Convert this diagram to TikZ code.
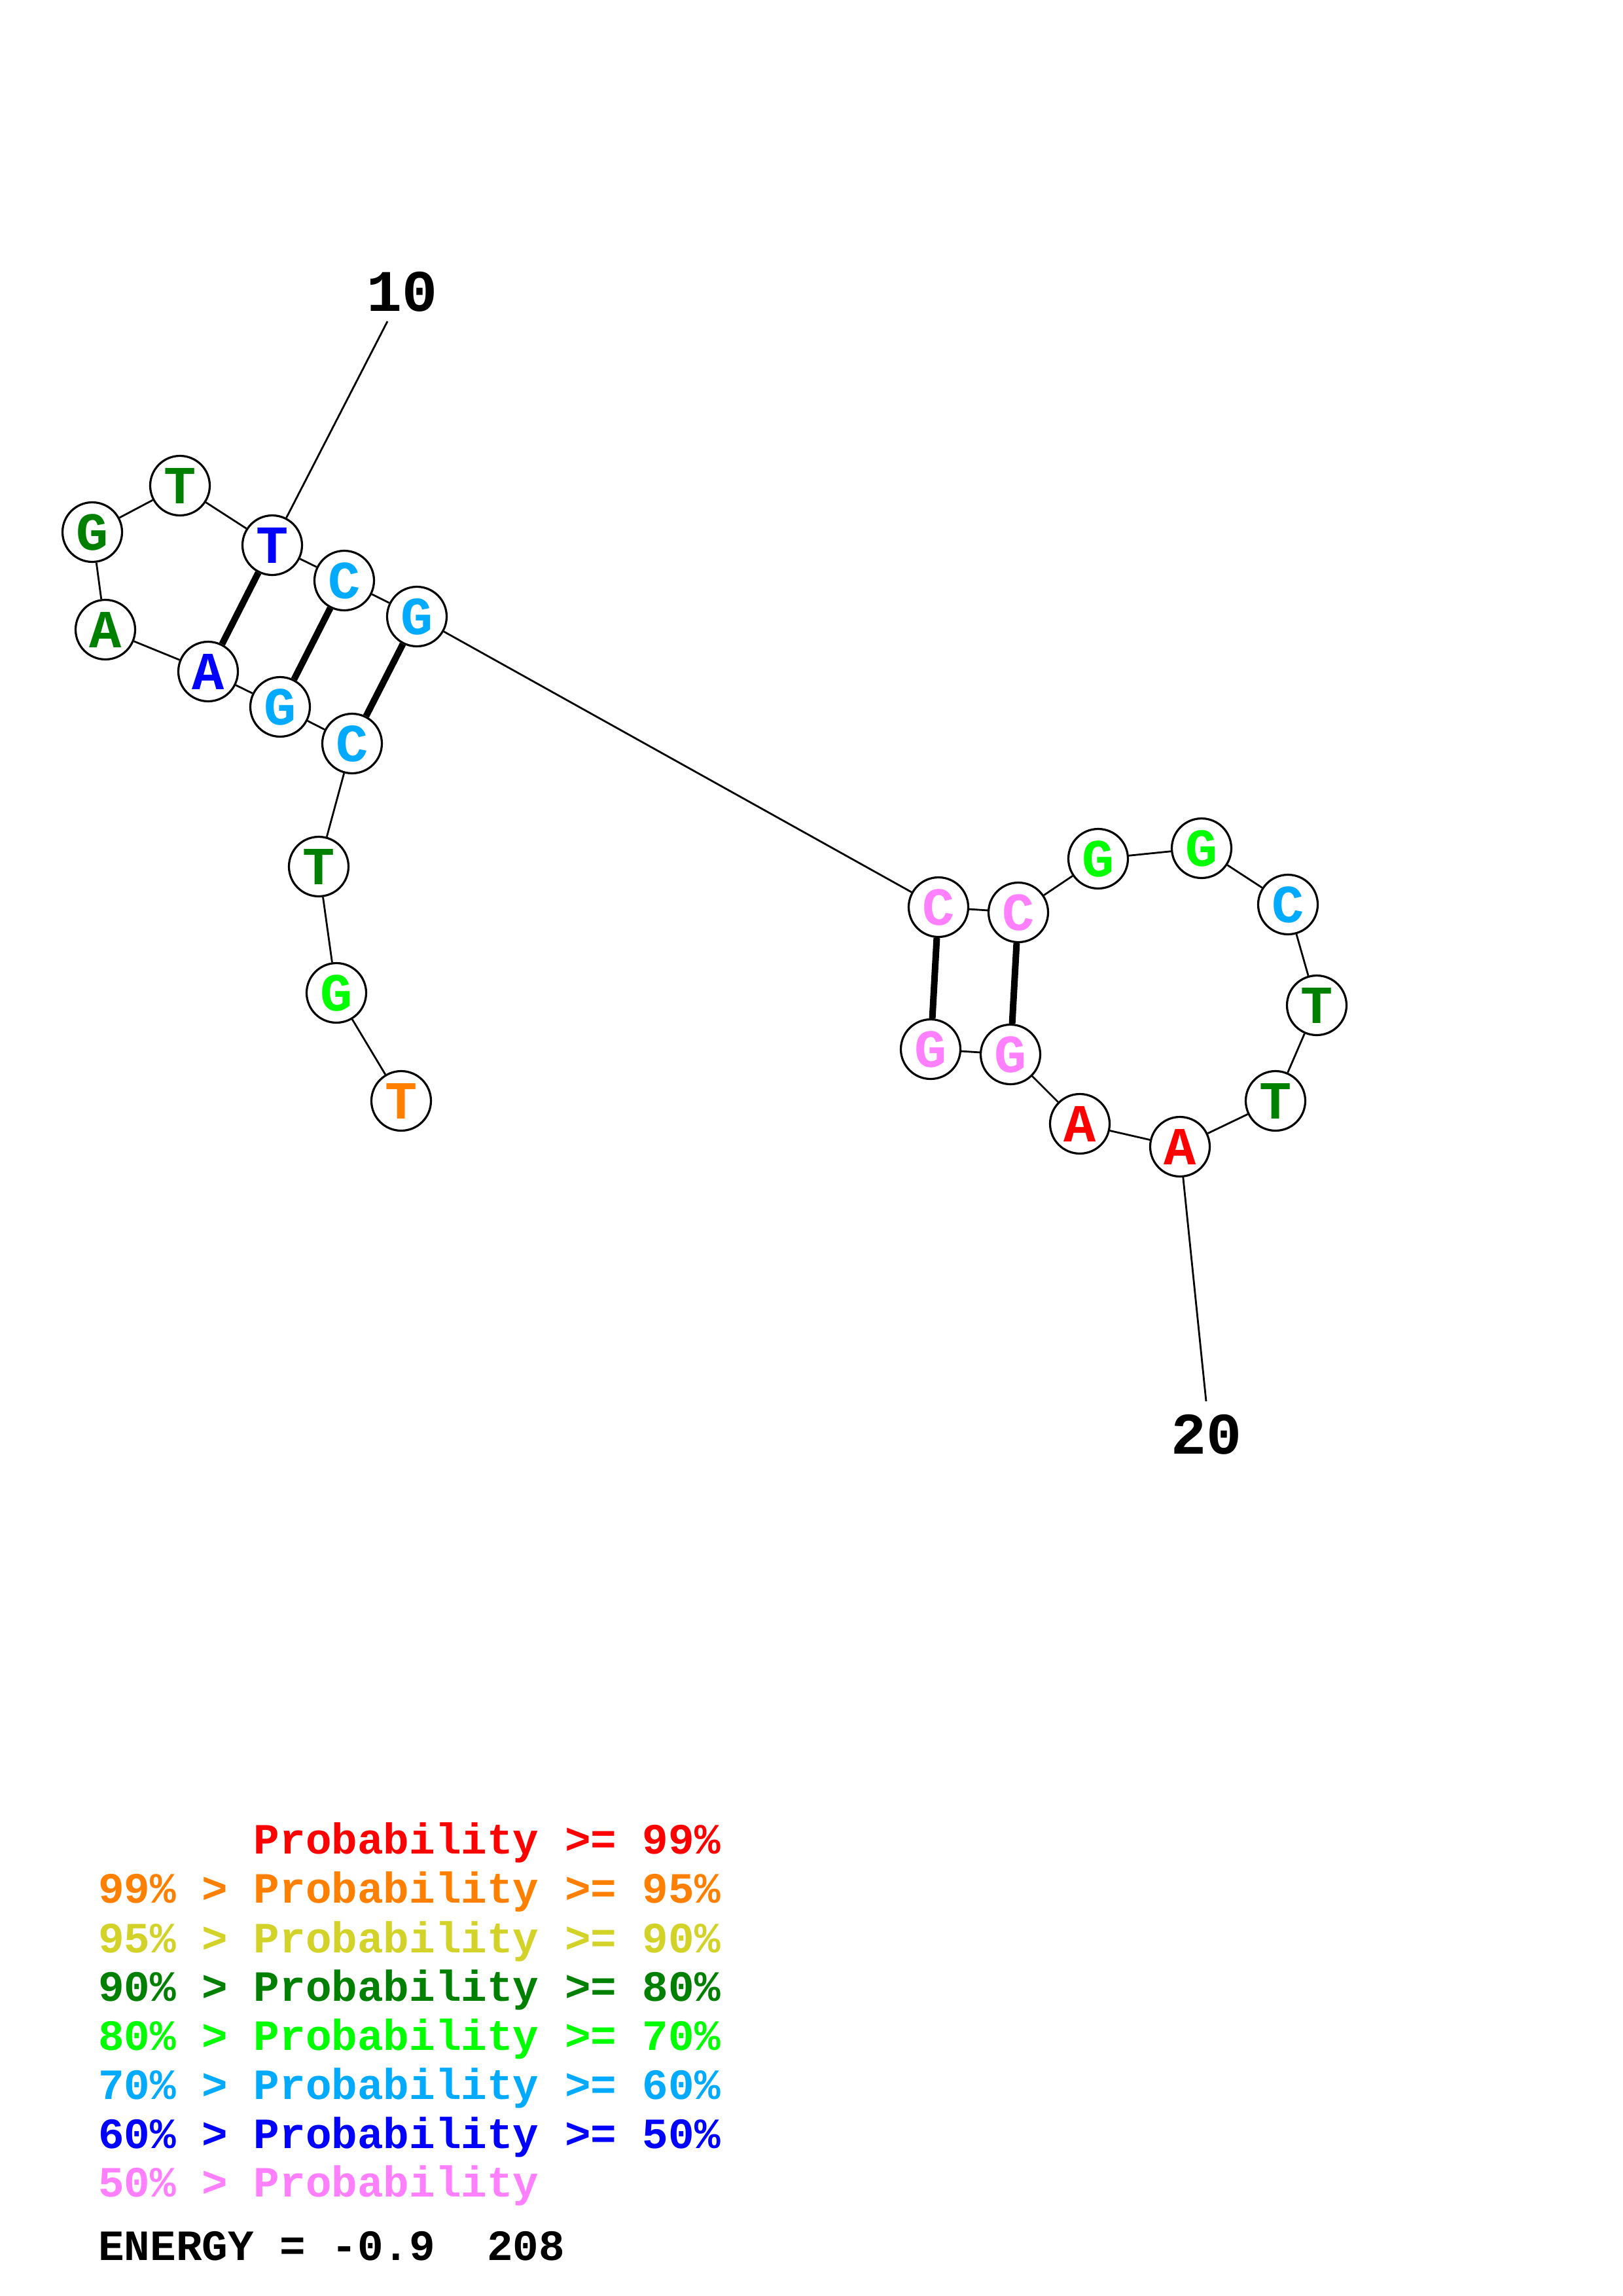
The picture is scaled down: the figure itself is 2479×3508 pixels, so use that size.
\documentclass[tikz,border=0pt]{standalone}
\usepackage{fontspec}
\setmonofont{Liberation Mono}
\definecolor{pRed}{RGB}{255,0,0}
\definecolor{pOrange}{RGB}{255,128,0}
\definecolor{pYellow}{RGB}{210,210,40}
\definecolor{pDkGreen}{RGB}{0,128,0}
\definecolor{pLime}{RGB}{0,255,0}
\definecolor{pCyan}{RGB}{0,170,255}
\definecolor{pBlue}{RGB}{0,0,255}
\definecolor{pPink}{RGB}{255,128,255}
\begin{document}
\begin{tikzpicture}[x=1pt,y=-1pt,
  base/.style={draw=black,line width=3.2pt,circle,fill=white,minimum size=91pt,inner sep=0pt,
    font=\fontsize{82}{82}\selectfont\ttfamily\bfseries},
  bb/.style={line width=2.8pt,draw=black},
  pair/.style={line width=10pt,draw=black},
  numlbl/.style={font=\fontsize{90}{90}\selectfont\ttfamily\bfseries,inner sep=0pt},
  leg/.style={anchor=base west,inner sep=0pt,font=\fontsize{66}{66}\selectfont\ttfamily\bfseries}]
\useasboundingbox[fill=white] (0,0) rectangle (2479,3508);
% nodes
\node[base,text=pOrange]  (n1)  at (613,1682) {T};
\node[base,text=pLime]    (n2)  at (514,1517) {G};
\node[base,text=pDkGreen] (n3)  at (487,1324) {T};
\node[base,text=pCyan]    (n4)  at (538,1136) {C};
\node[base,text=pCyan]    (n5)  at (428,1080) {G};
\node[base,text=pBlue]    (n6)  at (318,1026) {A};
\node[base,text=pDkGreen] (n7)  at (161,962)  {A};
\node[base,text=pDkGreen] (n8)  at (141,813)  {G};
\node[base,text=pDkGreen] (n9)  at (275,742)  {T};
\node[base,text=pBlue]    (n10) at (416,833)  {T};
\node[base,text=pCyan]    (n11) at (526,887)  {C};
\node[base,text=pCyan]    (n12) at (637,942)  {G};
\node[base,text=pPink]    (n13) at (1434,1386) {C};
\node[base,text=pPink]    (n14) at (1556,1394) {C};
\node[base,text=pLime]    (n15) at (1678,1312) {G};
\node[base,text=pLime]    (n16) at (1836,1296) {G};
\node[base,text=pCyan]    (n17) at (1968,1382) {C};
\node[base,text=pDkGreen] (n18) at (2012,1536) {T};
\node[base,text=pDkGreen] (n19) at (1949,1682) {T};
\node[base,text=pRed]     (n20) at (1803,1752) {A};
\node[base,text=pRed]     (n21) at (1650,1717) {A};
\node[base,text=pPink]    (n22) at (1544,1611) {G};
\node[base,text=pPink]    (n23) at (1422,1603) {G};
% number labels
\node[numlbl] (l10) at (615,446) {10};
\node[numlbl] (l20) at (1843,2192) {20};
\coordinate (e10) at (592,491);
\coordinate (e20) at (1843,2141);
% backbone
\draw[bb] (n1)--(n2) (n2)--(n3) (n3)--(n4) (n4)--(n5) (n5)--(n6) (n6)--(n7) (n7)--(n8)
  (n8)--(n9) (n9)--(n10) (n10)--(n11) (n11)--(n12) (n12)--(n13) (n13)--(n14) (n14)--(n15)
  (n15)--(n16) (n16)--(n17) (n17)--(n18) (n18)--(n19) (n19)--(n20) (n20)--(n21) (n21)--(n22)
  (n22)--(n23);
\draw[bb] (n10)--(e10);
\draw[bb] (n20)--(e20);
% pairs
\draw[pair] (n4)--(n12) (n5)--(n11) (n6)--(n10) (n13)--(n23) (n14)--(n22);
% legend
\node[leg,text=pRed]     (g1) at (150,2832) {\phantom{99\% > }Probability >= 99\%};
\node[leg,text=pOrange]  (g2) at (150,2907) {99\% > Probability >= 95\%};
\node[leg,text=pYellow]  (g3) at (150,2983) {95\% > Probability >= 90\%};
\node[leg,text=pDkGreen] (g4) at (150,3057) {90\% > Probability >= 80\%};
\node[leg,text=pLime]    (g5) at (150,3132) {80\% > Probability >= 70\%};
\node[leg,text=pCyan]    (g6) at (150,3207) {70\% > Probability >= 60\%};
\node[leg,text=pBlue]    (g7) at (150,3282) {60\% > Probability >= 50\%};
\node[leg,text=pPink]    (g8) at (150,3356) {50\% > Probability};
\node[leg,text=black]    (g9) at (150,3453) {ENERGY = -0.9~~208};
\end{tikzpicture}
\end{document}
